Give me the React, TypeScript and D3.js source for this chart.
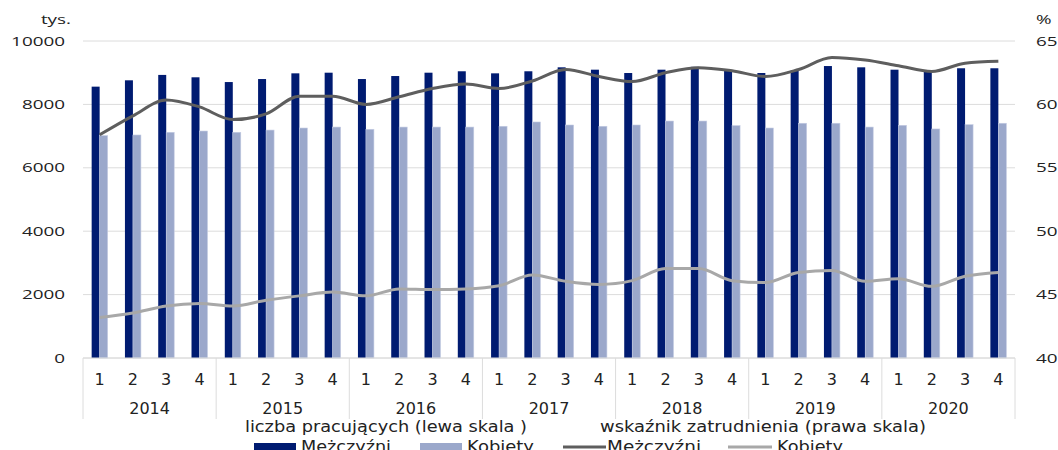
import React from "react";
import * as d3 from "d3";

const years = ["2014", "2015", "2016", "2017", "2018", "2019", "2020"];
const quarters = ["1", "2", "3", "4"];

// liczba pracujących (tys.)
const menCount = [8560, 8760, 8930, 8855, 8705, 8800, 8980, 9000, 8800, 8895, 9000, 9045, 8980, 9045, 9170, 9095, 8990, 9095, 9185, 9075, 8990, 9070, 9210, 9170, 9095, 9035, 9140, 9140];
const womenCount = [7015, 7035, 7120, 7160, 7120, 7190, 7255, 7285, 7215, 7285, 7285, 7285, 7310, 7445, 7350, 7310, 7350, 7475, 7475, 7330, 7255, 7405, 7405, 7285, 7340, 7225, 7360, 7405];

// wskaźnik zatrudnienia (%)
const menRate = [57.6, 59.1, 60.35, 59.8, 58.8, 59.25, 60.65, 60.65, 60.0, 60.6, 61.25, 61.6, 61.25, 61.85, 62.75, 62.2, 61.8, 62.5, 62.9, 62.65, 62.2, 62.75, 63.7, 63.5, 63.05, 62.6, 63.25, 63.4];
const womenRate = [43.2, 43.55, 44.1, 44.3, 44.1, 44.55, 44.9, 45.2, 44.9, 45.45, 45.4, 45.45, 45.7, 46.55, 46.05, 45.8, 46.1, 47.05, 47.05, 46.1, 45.95, 46.75, 46.9, 46.05, 46.25, 45.65, 46.45, 46.75];

const leftTicks = [0, 2000, 4000, 6000, 8000, 10000];
const rightTicks = [40, 45, 50, 55, 60, 65];

const leftUnit = "tys.";
const rightUnit = "%";
const legendGroup1 = "liczba pracujących (lewa skala )";
const legendGroup2 = "wskaźnik zatrudnienia (prawa skala)";
const seriesMen = "Mężczyźni";
const seriesWomen = "Kobiety";

const C_MEN_BAR = "#001B71";
const C_WOMEN_BAR = "#9BA8CB";
const C_MEN_LINE = "#5E5E5E";
const C_WOMEN_LINE = "#A8A8A8";
const C_GRID = "#DCDCDC";

const TICK_FONT = "'Open Sans', sans-serif";
const CAT_FONT = "'DejaVu Sans', sans-serif";

export default function App() {
  const W = 1058;
  const H = 450;
  const left = 83;
  const right = 1015;
  const top = 41;
  const bottom = 358;

  const cats = years.flatMap((y) => quarters.map((q) => `${y}-${q}`));
  const x = d3.scaleBand<string>().domain(cats).range([left, right]).paddingInner(0).paddingOuter(0);
  const yL = d3.scaleLinear().domain([0, 10000]).range([bottom, top]);
  const yR = d3.scaleLinear().domain([40, 65]).range([bottom, top]);
  const bw = x.bandwidth() * 0.24;
  const cx = (i: number) => (x(cats[i]) as number) + x.bandwidth() / 2;

  const line = d3
    .line<number>()
    .x((_, i) => cx(i))
    .y((d) => yR(d))
    .curve(d3.curveMonotoneX);

  const yearW = x.bandwidth() * 4;
  const sx = 1.45;

  return (
    <svg
      width={W}
      height={H}
      style={{ position: "absolute", left: 0, top: 0, background: "#fff" }}
    >
      {/* gridlines */}
      {leftTicks.map((t) => (
        <line key={"g" + t} x1={left} x2={right} y1={yL(t)} y2={yL(t)} stroke={C_GRID} strokeWidth={1} />
      ))}

      {/* bars */}
      {menCount.map((v, i) => (
        <rect key={"m" + i} x={cx(i) - bw} y={yL(v)} width={bw} height={yL(0) - yL(v)} fill={C_MEN_BAR} />
      ))}
      {womenCount.map((v, i) => (
        <rect
          key={"w" + i}
          x={cx(i)}
          y={yL(v)}
          width={bw}
          height={yL(0) - yL(v)}
          fill={C_WOMEN_BAR}
          stroke="#C3CBE2"
          strokeWidth={0.6}
        />
      ))}

      {/* lines */}
      <path d={line(womenRate) || ""} fill="none" stroke={C_WOMEN_LINE} strokeWidth={3} strokeLinejoin="round" />
      <path d={line(menRate) || ""} fill="none" stroke={C_MEN_LINE} strokeWidth={3} strokeLinejoin="round" />

      {/* x axis line and year separators */}
      <line x1={left} x2={right} y1={bottom} y2={bottom} stroke={C_GRID} strokeWidth={1} />
      {d3.range(years.length + 1).map((k) => (
        <line key={"s" + k} x1={left + k * yearW} x2={left + k * yearW} y1={bottom} y2={419} stroke={C_GRID} strokeWidth={1} />
      ))}

      {/* category labels */}
      {cats.map((c, i) => (
        <text key={"q" + i} x={cx(i)} y={385} textAnchor="middle" fontFamily={CAT_FONT} fontSize={16} fill="#222">
          {quarters[i % 4]}
        </text>
      ))}
      {years.map((yr, k) => (
        <text key={"y" + yr} x={left + k * yearW + yearW / 2} y={414} textAnchor="middle" fontFamily={CAT_FONT} fontSize={16} fill="#222">
          {yr}
        </text>
      ))}

      {/* left ticks */}
      {leftTicks.map((t) => (
        <text
          key={"l" + t}
          transform={`translate(65,${yL(t) + 4.5}) scale(${sx},1)`}
          textAnchor="end"
          fontFamily={TICK_FONT}
          fontSize={13}
          fill="#222"
        >
          {t}
        </text>
      ))}
      {/* right ticks */}
      {rightTicks.map((t) => (
        <text
          key={"r" + t}
          transform={`translate(1036,${yR(t) + 4.5}) scale(${sx},1)`}
          textAnchor="start"
          fontFamily={TICK_FONT}
          fontSize={13}
          fill="#222"
        >
          {t}
        </text>
      ))}
      <text transform={`translate(71,24) scale(${sx},1)`} textAnchor="end" fontFamily={TICK_FONT} fontSize={13} fill="#222">
        {leftUnit}
      </text>
      <text transform={`translate(1036,24) scale(${sx},1)`} textAnchor="start" fontFamily={TICK_FONT} fontSize={13} fill="#222">
        {rightUnit}
      </text>

      {/* legend */}
      <text x={245} y={432} fontFamily={CAT_FONT} fontSize={16} fill="#222" textLength={282} lengthAdjust="spacingAndGlyphs">
        {legendGroup1}
      </text>
      <text x={600} y={432} fontFamily={CAT_FONT} fontSize={16} fill="#222" textLength={326} lengthAdjust="spacingAndGlyphs">
        {legendGroup2}
      </text>

      <rect x={254} y={443} width={42} height={9} fill={C_MEN_BAR} />
      <text x={301} y={452} fontFamily={CAT_FONT} fontSize={16} fill="#222" textLength={90} lengthAdjust="spacingAndGlyphs">
        {seriesMen}
      </text>
      <rect x={420} y={443} width={42} height={9} fill={C_WOMEN_BAR} />
      <text x={467} y={452} fontFamily={CAT_FONT} fontSize={16} fill="#222" textLength={67} lengthAdjust="spacingAndGlyphs">
        {seriesWomen}
      </text>

      <line x1={563} x2={606} y1={447} y2={447} stroke={C_MEN_LINE} strokeWidth={3} />
      <text x={607} y={452} fontFamily={CAT_FONT} fontSize={16} fill="#222" textLength={94} lengthAdjust="spacingAndGlyphs">
        {seriesMen}
      </text>
      <line x1={728} x2={772} y1={447} y2={447} stroke={C_WOMEN_LINE} strokeWidth={3} />
      <text x={777} y={452} fontFamily={CAT_FONT} fontSize={16} fill="#222" textLength={66} lengthAdjust="spacingAndGlyphs">
        {seriesWomen}
      </text>
    </svg>
  );
}
